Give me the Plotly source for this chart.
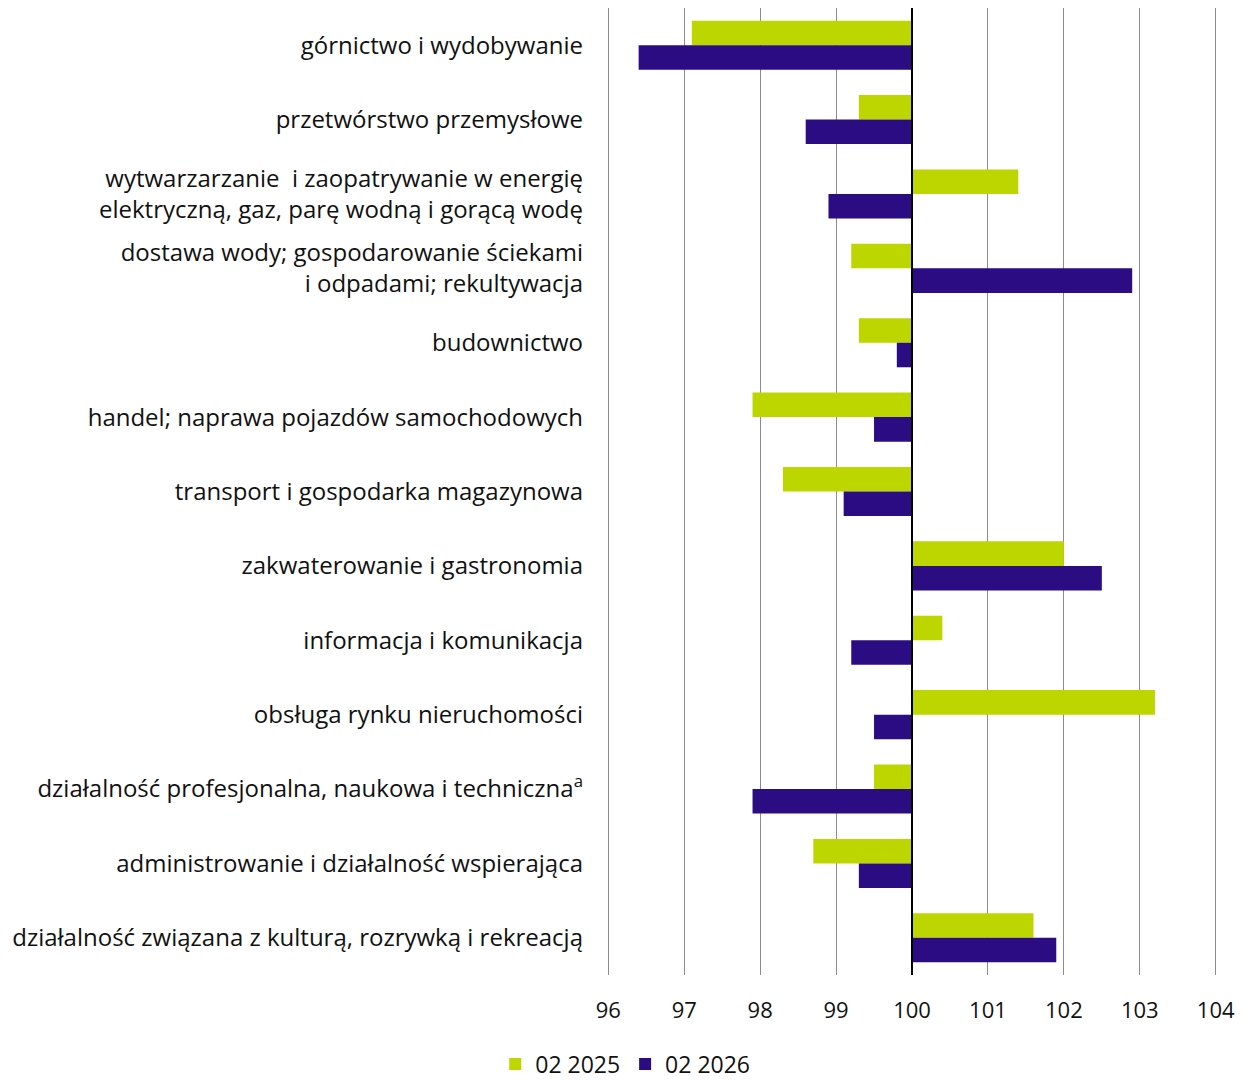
import plotly.graph_objects as go

categories = [
    "górnictwo i wydobywanie",
    "przetwórstwo przemysłowe",
    "wytwarzarzanie  i zaopatrywanie w energię<br>elektryczną, gaz, parę wodną i gorącą wodę",
    "dostawa wody; gospodarowanie ściekami<br>i odpadami; rekultywacja",
    "budownictwo",
    "handel; naprawa pojazdów samochodowych",
    "transport i gospodarka magazynowa",
    "zakwaterowanie i gastronomia",
    "informacja i komunikacja",
    "obsługa rynku nieruchomości",
    "działalność profesjonalna, naukowa i techniczna<sup>a</sup>",
    "administrowanie i działalność wspierająca",
    "działalność związana z kulturą, rozrywką i rekreacją",
]

values_2025 = [97.1, 99.3, 101.4, 99.2, 99.3, 97.9, 98.3, 102.0, 100.4, 103.2, 99.5, 98.7, 101.6]
values_2026 = [96.4, 98.6, 98.9, 102.9, 99.8, 99.5, 99.1, 102.5, 99.2, 99.5, 97.9, 99.3, 101.9]

series_names = ["02 2025", "02 2026"]
BASE = 100
x_ticks = [96, 97, 98, 99, 100, 101, 102, 103, 104]

GREEN = "#BED600"
PURPLE = "#2B0C83"
FONT = "Open Sans"

fig = go.Figure()
for name, vals, color in [(series_names[0], values_2025, GREEN),
                          (series_names[1], values_2026, PURPLE)]:
    fig.add_trace(go.Bar(
        y=categories,
        x=[v - BASE for v in vals],
        base=BASE,
        name=name,
        orientation="h",
        marker=dict(color=color, line=dict(width=0)),
    ))

fig.add_shape(type="line", xref="x", yref="paper",
              x0=BASE, x1=BASE, y0=0, y1=1,
              line=dict(color="black", width=2), layer="above")

fig.update_layout(
    width=1239, height=1080,
    margin=dict(l=598, r=29, t=0, b=113),
    barmode="group",
    bargap=0.34,
    bargroupgap=0,
    plot_bgcolor="white",
    paper_bgcolor="white",
    font=dict(family=FONT, size=24, color="#111111"),
    showlegend=True,
    legend=dict(orientation="h", x=-0.181, xanchor="left", xref="paper",
                y=0.0222, yanchor="middle", yref="container",
                font=dict(size=23), itemwidth=30,
                traceorder="normal"),
)

fig.update_xaxes(
    range=[x_ticks[0] - 0.03, x_ticks[-1] + 0.03],
    tickvals=x_ticks,
    showgrid=True, gridcolor="#8c8c8c", gridwidth=1,
    zeroline=False, showline=False,
    ticks="", ticklabelstandoff=20,
    tickfont=dict(size=22),
)
fig.update_yaxes(
    autorange="reversed",
    showgrid=False, zeroline=False, showline=False,
    ticks="", ticklabelstandoff=22,
    tickfont=dict(size=24),
)

fig.write_html("out.html")
